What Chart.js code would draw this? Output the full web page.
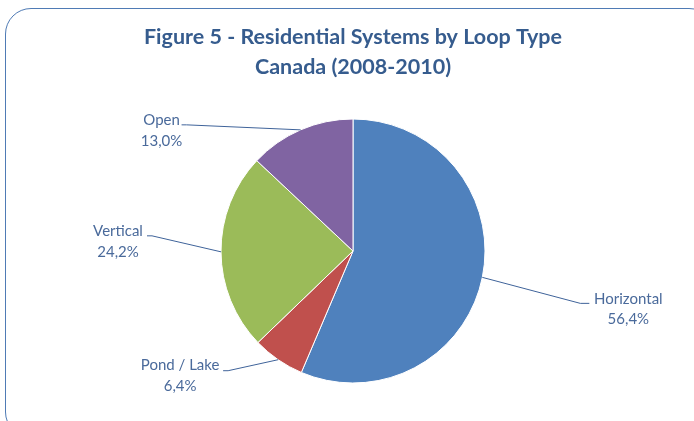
<!DOCTYPE html>
<html>
<head>
<meta charset="utf-8">
<script src="https://cdn.jsdelivr.net/npm/chart.js@4"></script>
<style>
  html, body { margin: 0; padding: 0; background: #ffffff; overflow: hidden; }
  #wrap { position: relative; width: 694px; height: 421px; }
  #frame {
    position: absolute; left: 5px; top: 8px; width: 710px; height: 430px;
    border: 1.5px solid #4f7bb5; border-radius: 26px; box-sizing: border-box;
  }
  canvas { position: absolute; left: 0; top: 0; }
</style>
</head>
<body>
<div id="wrap">
  <div id="frame"></div>
  <canvas id="chart" width="694" height="421"></canvas>
</div>
<script>
// Loop types, clockwise from 12 o'clock
const categories = ['Horizontal', 'Pond / Lake', 'Vertical', 'Open'];
const shares = [56.4, 6.4, 24.2, 13.0];
const sliceColors = ['#4f81bd', '#c0504d', '#9bbb59', '#8064a2'];
const titleLines = ['Figure 5 - Residential Systems by Loop Type', 'Canada (2008-2010)'];

// Where each label sits relative to the slice's outer edge point (dx, dy of the
// text centre) and where its leader line bends (elbow) before the text.
const labelPlacement = [
  { dx: 146, dy: 32, elbowDx: 98, elbowDy: 26, side: 'right' },
  { dx: -98, dy: 16, elbowDx: -50, elbowDy: 11, side: 'left' },
  { dx: -103, dy: -10, elbowDx: -69, elbowDy: -16, side: 'left' },
  { dx: -139, dy: 1, elbowDx: -114, elbowDy: -5, side: 'left' }
];

const fmt = v => v.toFixed(1).replace('.', ',') + '%';

const leaderLabels = {
  id: 'leaderLabels',
  afterDatasetsDraw(chart) {
    const ctx = chart.ctx;
    const meta = chart.getDatasetMeta(0);
    const lineH = 20.5;
    ctx.save();
    meta.data.forEach((arc, i) => {
      const p = labelPlacement[i];
      const mid = (arc.startAngle + arc.endAngle) / 2;
      const ex = arc.x + Math.cos(mid) * arc.outerRadius;
      const ey = arc.y + Math.sin(mid) * arc.outerRadius;
      const bx = ex + p.elbowDx, by = ey + p.elbowDy;
      const tail = p.side === 'right' ? 9 : -5;
      ctx.strokeStyle = '#3f639a';
      ctx.lineWidth = 1;
      ctx.beginPath();
      ctx.moveTo(ex, ey);
      ctx.lineTo(bx, by);
      ctx.lineTo(bx + tail, by);
      ctx.stroke();

      const cx = ex + p.dx, cy = ey + p.dy;
      ctx.fillStyle = '#4a6a9b';
      ctx.font = '15px Lato, "Open Sans", sans-serif';
      ctx.textAlign = 'center';
      ctx.textBaseline = 'middle';
      ctx.fillText(categories[i], cx, cy - lineH / 2);
      ctx.fillText(fmt(shares[i]), cx, cy + lineH / 2);
    });
    ctx.restore();
  }
};

new Chart(document.getElementById('chart'), {
  type: 'pie',
  data: {
    labels: categories,
    datasets: [{
      data: shares,
      backgroundColor: sliceColors,
      borderColor: '#ffffff',
      borderWidth: 1
    }]
  },
  options: {
    responsive: false,
    animation: false,
    events: [],
    layout: { padding: { left: 12, right: 0, top: 0, bottom: 37.5 } },
    plugins: {
      legend: { display: false },
      tooltip: { enabled: false },
      title: {
        display: true,
        text: titleLines,
        color: '#365c8e',
        font: { family: 'Lato, "Open Sans", sans-serif', size: 21.5, weight: 'bold', lineHeight: 30 / 21.5 },
        padding: { top: 22, bottom: 36.5 }
      }
    }
  },
  plugins: [leaderLabels]
});
</script>
</body>
</html>
